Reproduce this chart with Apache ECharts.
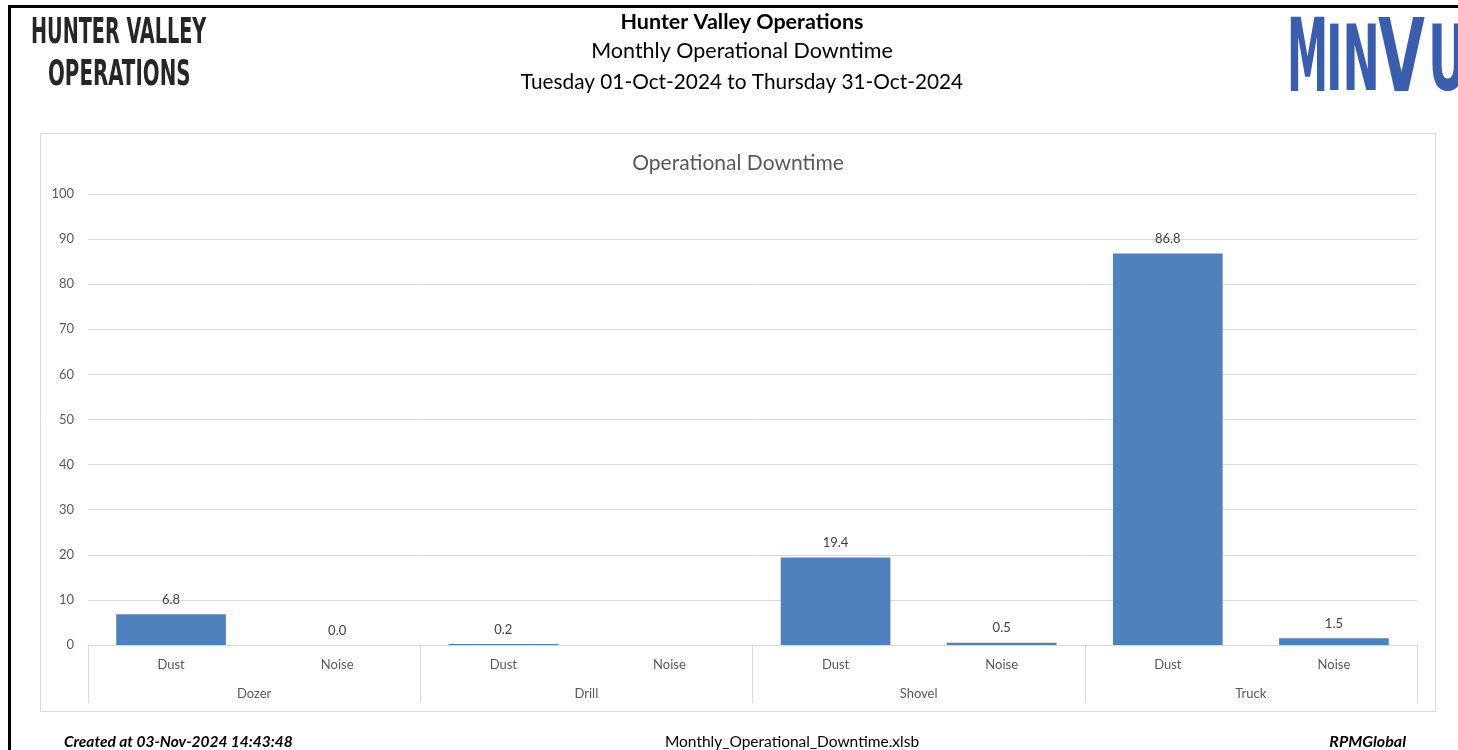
<!DOCTYPE html>
<html>
<head>
<meta charset="utf-8">
<script src="https://cdn.jsdelivr.net/npm/echarts@6/dist/echarts.min.js"></script>
<style>
html,body{margin:0;padding:0;background:#fff;}
#chart{width:1458px;height:750px;}
</style>
</head>
<body>
<div id="chart"></div>
<script>
// ---- data ----
const subCategories = ['Dust', 'Noise', 'Dust', 'Noise', 'Dust', 'Noise', 'Dust', 'Noise'];
const groupCategories = ['Dozer', 'Drill', 'Shovel', 'Truck'];
const downtimeValues = [6.8, 0.0, 0.2, null, 19.4, 0.5, 86.8, 1.5];
const yMin = 0, yMax = 100, yStep = 10;

const headerTitle = 'Hunter Valley Operations';
const headerSubtitle = 'Monthly Operational Downtime';
const headerPeriod = 'Tuesday 01-Oct-2024 to Thursday 31-Oct-2024';
const chartTitle = 'Operational Downtime';
const footerLeft = 'Created at 03-Nov-2024 14:43:48';
const footerCenter = 'Monthly_Operational_Downtime.xlsb';
const footerRight = 'RPMGlobal';

const FONT = 'Lato, "Liberation Sans", sans-serif';
const chart = echarts.init(document.getElementById('chart'));

function txt(text, x, y, opts) {
  return Object.assign({
    type: 'text', x: x, y: y, silent: true,
    style: Object.assign({text: text, fill: '#000', fontFamily: FONT, fontSize: 19,
      align: 'center', verticalAlign: 'middle'}, opts && opts.style || {})
  }, opts && opts.el || {});
}

const logoBlue = '#3A5DAE';
const condensed = '"DejaVu Sans Condensed", "Liberation Sans Narrow", sans-serif';

const option = {
  animation: false,
  backgroundColor: '#fff',
  textStyle: {fontFamily: FONT},
  title: {
    text: chartTitle, left: 733, top: 148, textAlign: 'center',
    textStyle: {color: '#595959', fontSize: 21, fontWeight: 'normal', fontFamily: FONT}
  },
  grid: {left: 88, right: 41, top: 194, bottom: 105, containLabel: false},
  xAxis: [
    {
      type: 'category', data: subCategories, position: 'bottom',
      axisLine: {show: false}, axisTick: {show: false},
      axisLabel: {color: '#595959', fontSize: 13, margin: 13, interval: 0}
    },
    {
      type: 'category', data: groupCategories, position: 'bottom',
      axisLine: {show: true, lineStyle: {color: '#D9D9D9', width: 1}},
      axisTick: {show: true, length: 58, lineStyle: {color: '#D9D9D9', width: 1}},
      axisLabel: {color: '#595959', fontSize: 13, margin: 42, interval: 0}
    }
  ],
  yAxis: {
    type: 'value', min: yMin, max: yMax, interval: yStep,
    axisLine: {show: false}, axisTick: {show: false},
    axisLabel: {color: '#595959', fontSize: 13, margin: 14},
    splitLine: {lineStyle: {color: '#D9D9D9', width: 1}}
  },
  series: [{
    type: 'bar', data: downtimeValues, xAxisIndex: 0,
    barCategoryGap: '34%',
    itemStyle: {color: '#4F81BD'},
    label: {
      show: true, position: 'top', distance: 8, color: '#404040', fontSize: 13,
      formatter: p => (p.value == null ? '' : Number(p.value).toFixed(1))
    }
  }],
  graphic: [
    // page border
    {type: 'polyline', silent: true, shape: {points: [[9.5, 750], [9.5, 6.5], [1458, 6.5]]},
      style: {stroke: '#000', lineWidth: 3, fill: null}},
    // chart frame
    {type: 'rect', silent: true, shape: {x: 40.5, y: 133.5, width: 1395, height: 578},
      style: {stroke: '#D9D9D9', lineWidth: 1, fill: null}, z: -1},
    // header
    txt(headerTitle, 742, 22, {style: {fontWeight: 'bold', fontSize: 21.5}}),
    txt(headerSubtitle, 742, 51, {style: {fontSize: 21.5}}),
    txt(headerPeriod, 742, 82, {style: {fontSize: 20.8}}),
    // left logo
    txt('HUNTER VALLEY', 31, 34, {style: {fontFamily: condensed, fontWeight: 'bold', fontSize: 35, fill: '#262626', align: 'left'},
      el: {scaleX: 0.61}}),
    txt('OPERATIONS', 48, 76, {style: {fontFamily: condensed, fontWeight: 'bold', fontSize: 35, fill: '#262626', align: 'left'},
      el: {scaleX: 0.63}}),
    // right logo
    txt('M', 1287, 64, {style: {fontFamily: condensed, fontWeight: 'bold', fontSize: 102, fill: logoBlue, align: 'left'},
      el: {scaleX: 0.45}}),
    txt('IN', 1326, 67, {style: {fontFamily: condensed, fontWeight: 'bold', fontSize: 90, fill: logoBlue, align: 'left'},
      el: {scaleX: 0.55}}),
    txt('V', 1378, 64, {style: {fontFamily: condensed, fontWeight: 'bold', fontSize: 102, fill: logoBlue, align: 'left'},
      el: {scaleX: 0.66}}),
    txt('U', 1428, 67, {style: {fontFamily: condensed, fontWeight: 'bold', fontSize: 90, fill: logoBlue, align: 'left'},
      el: {scaleX: 0.6}}),
    // footer
    txt(footerLeft, 64, 742, {style: {fontWeight: 'bold', fontStyle: 'italic', fontSize: 15.5, align: 'left'}}),
    txt(footerCenter, 792, 742, {style: {fontSize: 15.5}}),
    txt(footerRight, 1406, 742, {style: {fontWeight: 'bold', fontStyle: 'italic', fontSize: 16, align: 'right'}})
  ]
};
chart.setOption(option);
</script>
</body>
</html>
